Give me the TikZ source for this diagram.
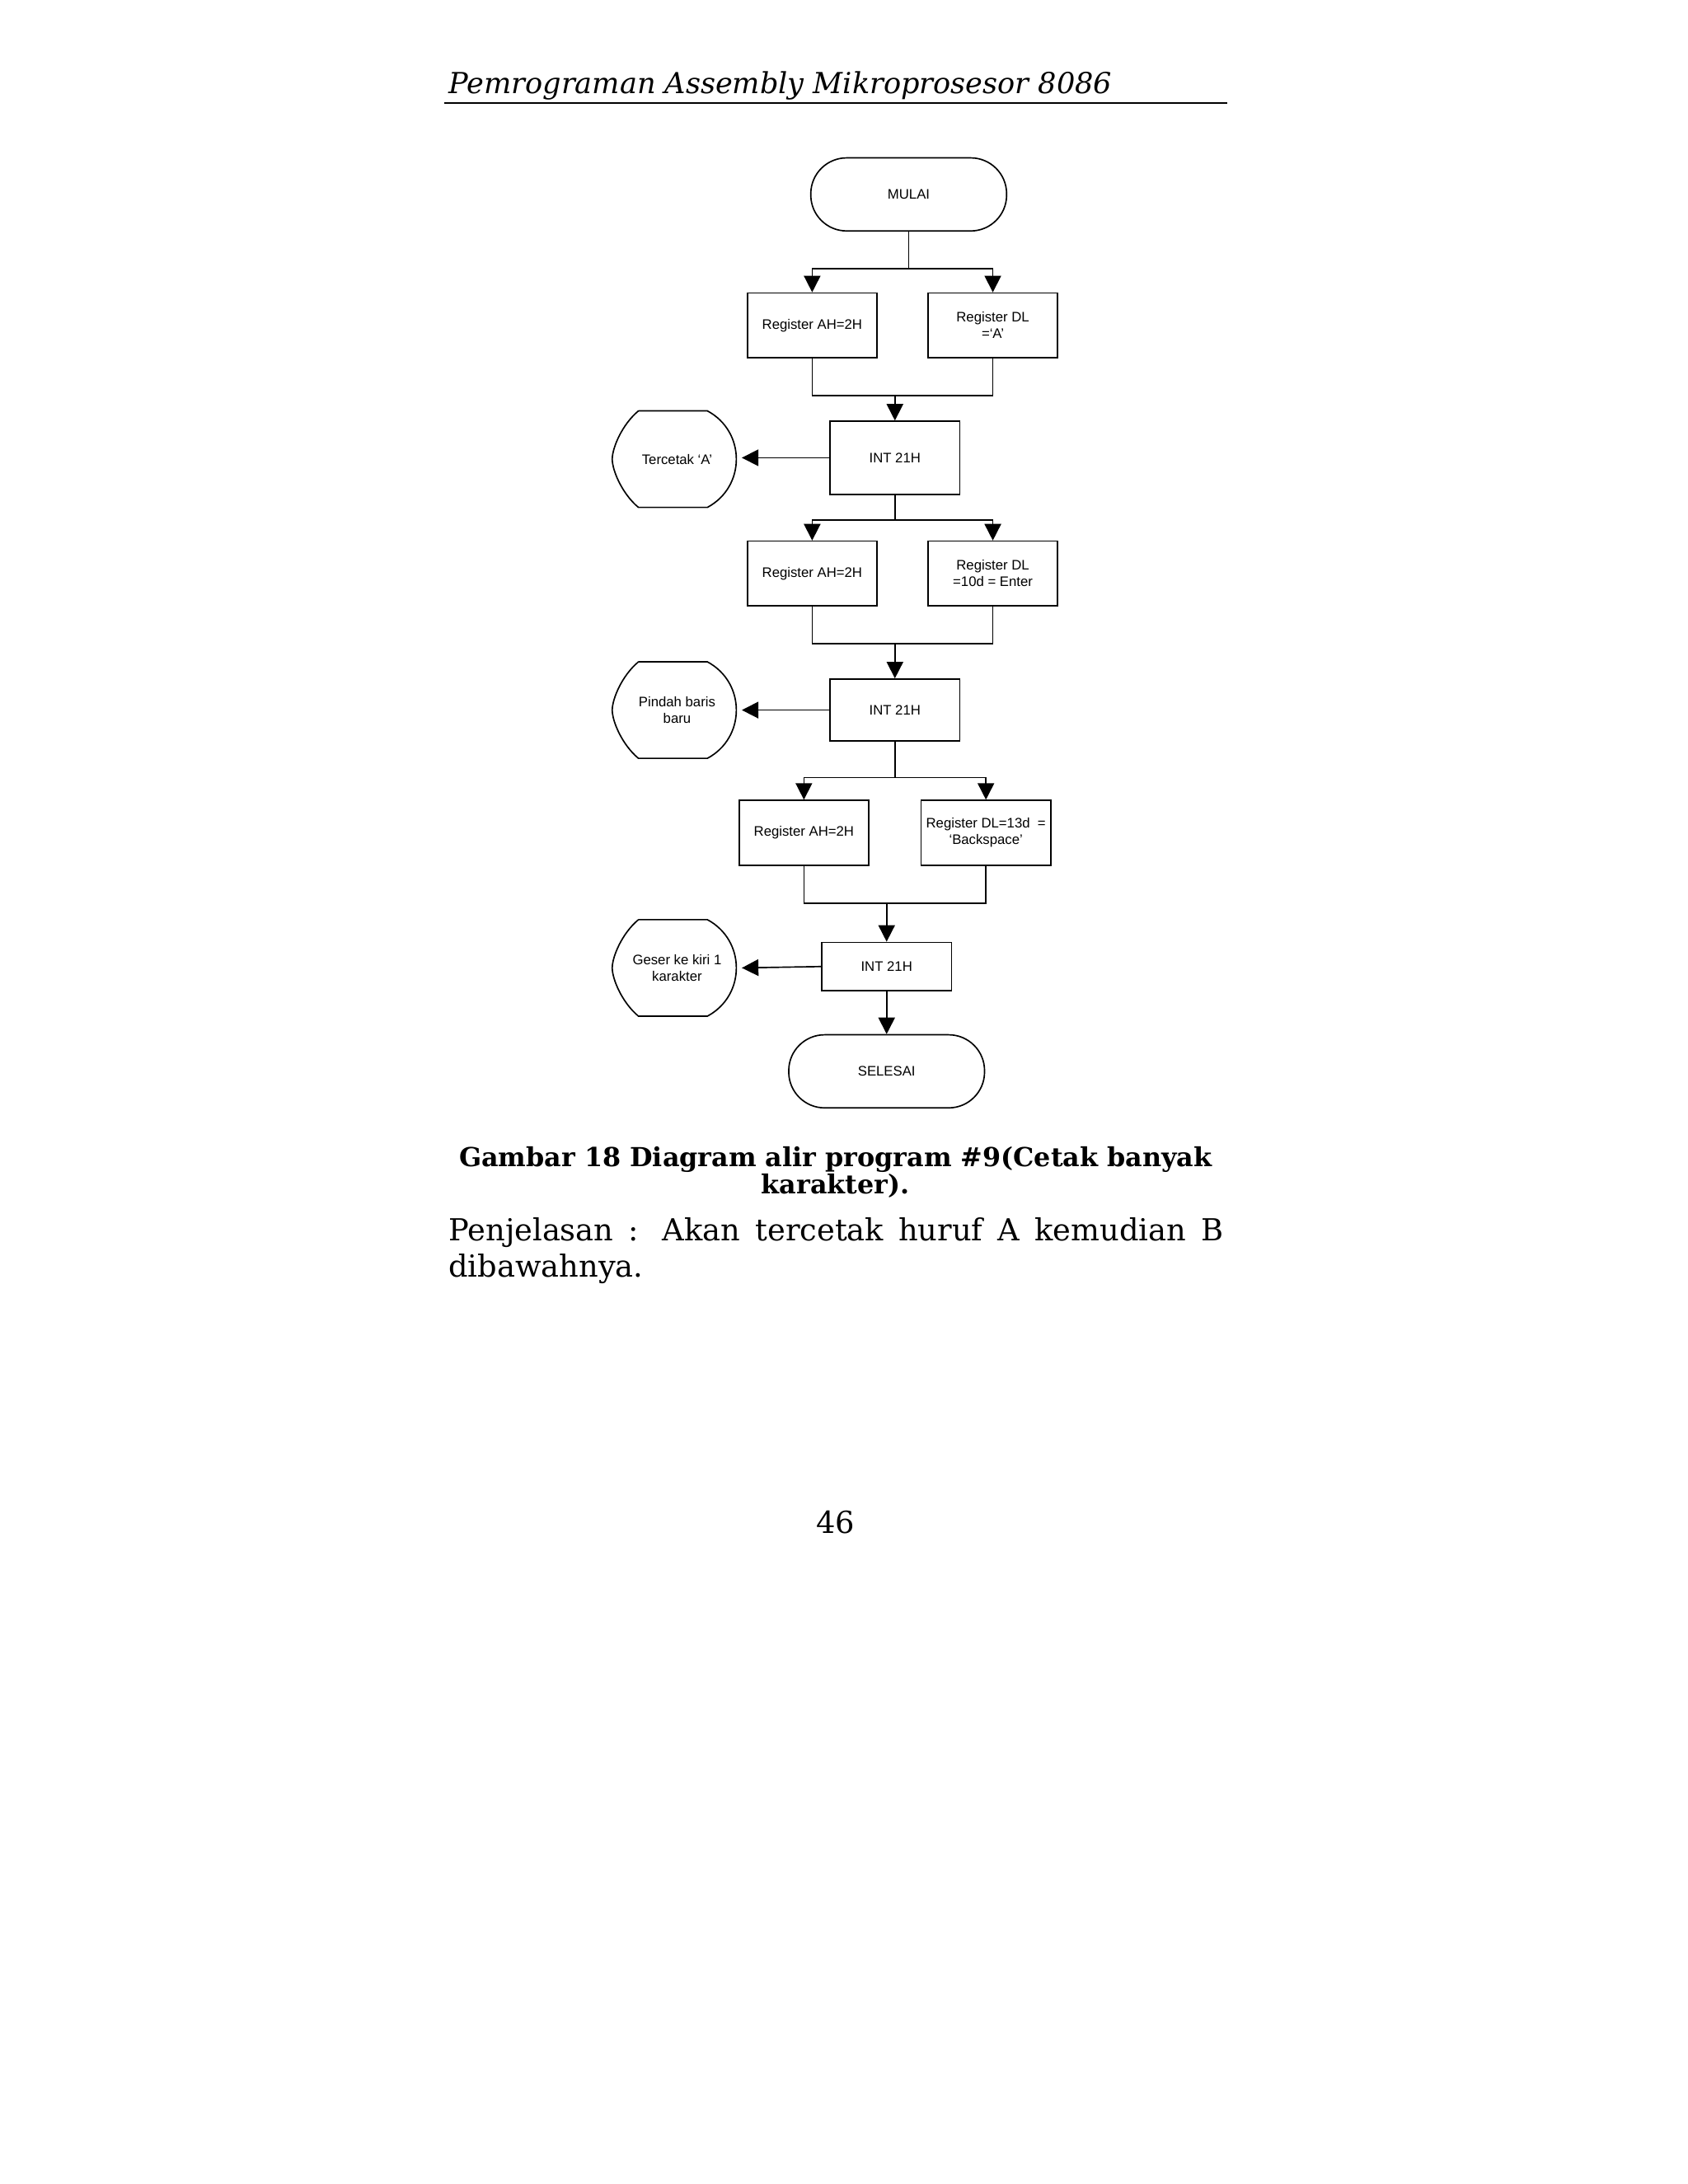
\documentclass[tikz,border=0pt]{standalone}
\usepackage{fontspec}
\setmainfont{DejaVu Serif}
\newfontfamily\diagfont{Liberation Sans}
\usetikzlibrary{arrows.meta}
\tikzset{
 box/.style={draw,line width=0.5pt,minimum width=47pt,minimum height=23.5pt,inner sep=0pt,align=center,font=\diagfont\fontsize{5}{6}\selectfont},
 lbl/.style={align=center,font=\diagfont\fontsize{5}{6}\selectfont},
 term/.style={draw,line width=0.5pt,rounded corners=13pt,minimum width=71pt,minimum height=26.5pt,inner sep=0pt,font=\diagfont\fontsize{5}{6}\selectfont},
 ln/.style={line width=0.5pt},
 arr/.style={line width=0.5pt,-{Triangle[length=6pt,width=6pt]}}
}
\newcommand{\dispshape}[2]{% center x, center y
 \draw[ln] (#1-28,#2-35) -- (#1+22,#2-35) .. controls (#1+50,#2-20) and (#1+50,#2+20) .. (#1+22,#2+35) -- (#1-28,#2+35) .. controls (#1-40,#2+25) and (#1-47,#2+8) .. (#1-47,#2) .. controls (#1-47,#2-8) and (#1-40,#2-25) .. (#1-28,#2-35);
}
\begin{document}
\begin{tikzpicture}[x=0.5pt,y=-0.5pt]
\useasboundingbox[fill=white] (0,0) rectangle (1224,1584);
% header
\node[anchor=base west,inner sep=0,font=\itshape\fontsize{10.5}{12}\selectfont] (hdr) at (325,68) {Pemrograman Assembly Mikroprosesor 8086};
\draw[line width=0.6pt] (322,75) -- (890,75);
% nodes
\node[term] (mulai) at (659,141) {MULAI};
\node[box] (b1) at (589,236) {Register AH=2H};
\node[box] (b2) at (720,236) {Register DL\\=‘A’};
\node[box,minimum height=26.5pt] (i1) at (649,332) {INT 21H};
\dispshape{491}{333}
\node[lbl] (d1) at (491,333) {Tercetak ‘A’};
\node[box] (b3) at (589,416) {Register AH=2H};
\node[box] (b4) at (720,416) {Register DL\\=10d = Enter};
\node[box,minimum height=22.5pt] (i2) at (649,515) {INT 21H};
\dispshape{491}{515}
\node[lbl] (d2) at (491,515) {Pindah baris\\baru};
\node[box] (b5) at (583,604) {Register AH=2H};
\node[box] (b6) at (715,604) {Register DL=13d ~=\\‘Backspace’};
\node[box,minimum height=17.5pt] (i3) at (643,701) {INT 21H};
\dispshape{491}{702}
\node[lbl] (d3) at (491,702) {Geser ke kiri 1\\karakter};
\node[term] (sel) at (643,777) {SELESAI};
\coordinate (d1e) at (538,332);
\coordinate (d2e) at (538,515);
\coordinate (d3e) at (538,702);
% connectors
\draw[ln] (mulai.south) -- (659,195);
\draw[arr] (659,195) -| (b1.north);
\draw[arr] (659,195) -| (b2.north);
\draw[ln] (b1.south) |- (649,287);
\draw[ln] (b2.south) |- (649,287);
\draw[arr] (649,287) -- (i1.north);
\draw[arr] (i1.west) -- (d1e);
\draw[ln] (i1.south) -- (649,377);
\draw[arr] (649,377) -| (b3.north);
\draw[arr] (649,377) -| (b4.north);
\draw[ln] (b3.south) |- (649,467);
\draw[ln] (b4.south) |- (649,467);
\draw[arr] (649,467) -- (i2.north);
\draw[arr] (i2.west) -- (d2e);
\draw[ln] (i2.south) -- (649,564);
\draw[arr] (649,564) -| (b5.north);
\draw[arr] (649,564) -| (b6.north);
\draw[ln] (b5.south) |- (643,655);
\draw[ln] (b6.south) |- (643,655);
\draw[arr] (643,655) -- (i3.north);
\draw[arr] (i3.west) -- (d3e);
\draw[arr] (i3.south) -- (sel.north);
% caption
\node[anchor=base,inner sep=0,font=\bfseries\fontsize{9.5}{11}\selectfont] (cap1) at (606,846) {Gambar 18 Diagram alir program \#9(Cetak banyak};
\node[anchor=base,inner sep=0,font=\bfseries\fontsize{9.5}{11}\selectfont] (cap2) at (606,866) {karakter).};
\node[anchor=base west,inner sep=0,font=\fontsize{11}{13}\selectfont,text width=281pt,align=justify] (par) at (325,900) {Penjelasan : Akan tercetak huruf A kemudian B dibawahnya.};
\node[anchor=base,inner sep=0,font=\fontsize{11}{13}\selectfont] (pg) at (606,1112) {46};
\end{tikzpicture}
\end{document}
